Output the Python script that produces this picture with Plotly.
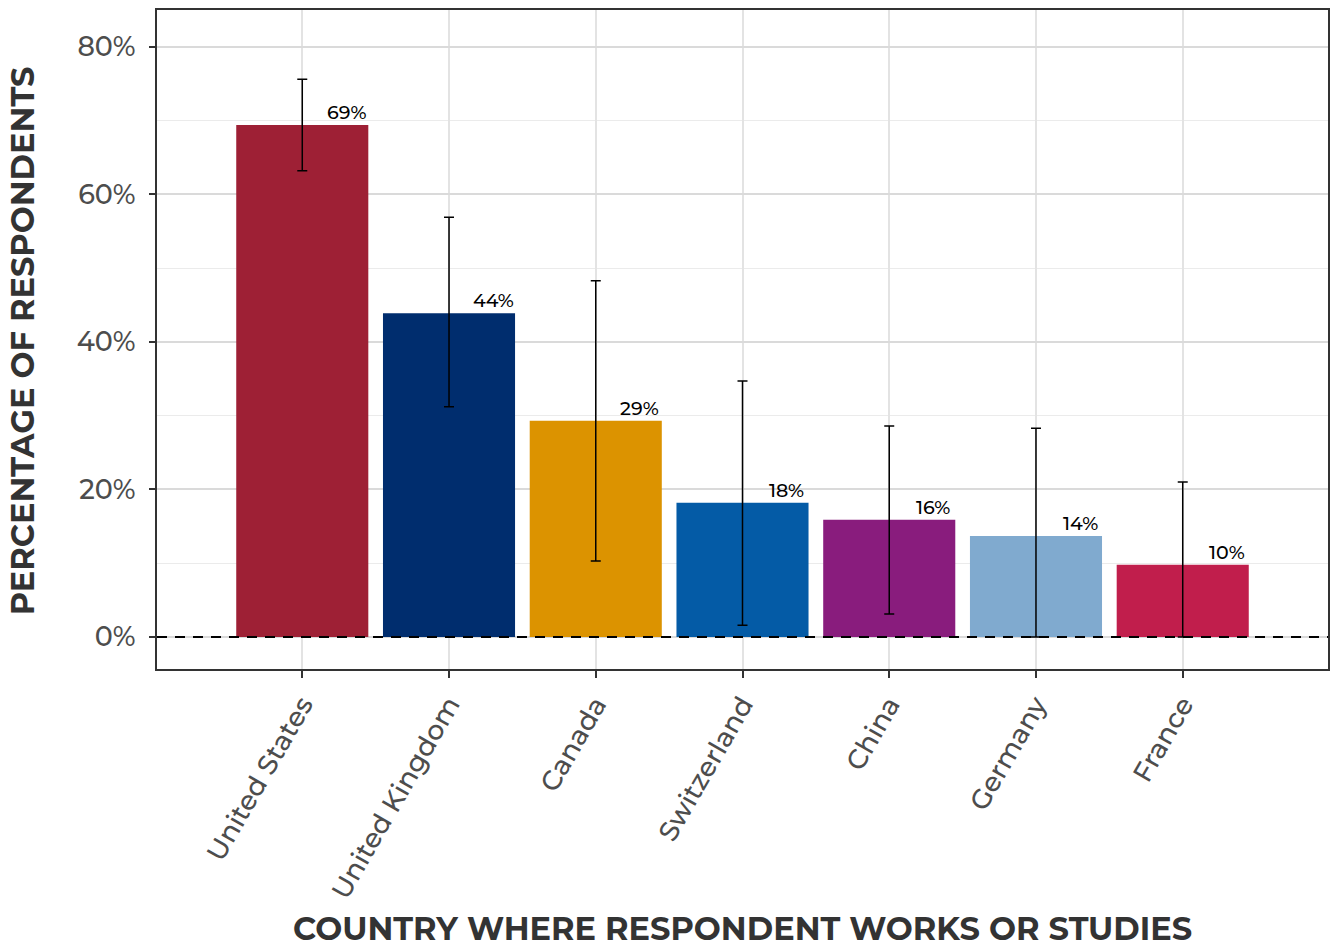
import plotly.graph_objects as go

countries = ["United States", "United Kingdom", "Canada", "Switzerland", "China", "Germany", "France"]
values = [69.4, 43.9, 29.3, 18.2, 15.9, 13.7, 9.8]
upper = [75.6, 56.9, 48.3, 34.7, 28.6, 28.3, 21.0]
lower = [63.2, 31.2, 10.3, 1.6, 3.1, 0.0, 0.0]
labels = ["69%", "44%", "29%", "18%", "16%", "14%", "10%"]
colors = ["#9E2035", "#002D6E", "#DC9300", "#045BA6", "#891C7D", "#80AACF", "#C11E4C"]

y_ticks = [0, 20, 40, 60, 80]
y_ticklabels = ["0%", "20%", "40%", "60%", "80%"]

FONT = "Montserrat, 'Open Sans', sans-serif"

fig = go.Figure()
fig.add_trace(go.Bar(
    x=countries, y=values,
    marker=dict(color=colors, line=dict(width=0)),
    width=0.9,
    error_y=dict(
        type="data", symmetric=False,
        array=[u - v for u, v in zip(upper, values)],
        arrayminus=[v - l for v, l in zip(values, lower)],
        color="black", thickness=1.5, width=5,
    ),
    showlegend=False,
    hoverinfo="skip",
))

for i, (v, lab) in enumerate(zip(values, labels)):
    fig.add_annotation(
        x=i + 0.3, y=v, xref="x", yref="y", text=lab, showarrow=False,
        yanchor="bottom", xanchor="center", yshift=-1,
        font=dict(family=FONT, size=19, color="black", weight=500),
    )

fig.add_shape(type="line", xref="paper", yref="y", x0=0, x1=1, y0=0, y1=0,
              line=dict(color="black", width=2, dash="10px,8px"), layer="above")

W, H = 1332, 951
L, R, T, B = 157, 2, 10, 282
pw = W - L - R
ph = H - T - B

fig.add_annotation(
    xref="paper", yref="paper", x=(22 - L) / pw, y=0.5 + (ph / 2 - (341 - T)) / ph,
    text="<b>PERCENTAGE OF RESPONDENTS</b>", textangle=-90, showarrow=False,
    xanchor="center", yanchor="middle",
    font=dict(family=FONT, size=32, color="#333333"),
)
fig.add_annotation(
    xref="paper", yref="paper", x=0.5, y=-(928 - (H - B)) / ph,
    text="<b>COUNTRY WHERE RESPONDENT WORKS OR STUDIES</b>", showarrow=False,
    xanchor="center", yanchor="middle",
    font=dict(family=FONT, size=32, color="#333333"),
)

fig.update_layout(
    width=W, height=H,
    margin=dict(l=L, r=R, t=T, b=B),
    plot_bgcolor="white", paper_bgcolor="white",
    font=dict(family=FONT, color="#4D4D4D"),
    bargap=0.1,
)
fig.update_xaxes(
    type="category", range=[-0.99, 6.99],
    showgrid=True, gridcolor="#E3E3E3", gridwidth=1.5,
    showline=True, linecolor="#333333", linewidth=2, mirror=True,
    ticks="outside", ticklen=7, tickwidth=2, tickcolor="#333333",
    tickangle=-60, tickfont=dict(family=FONT, size=27, color="#4D4D4D", weight=500),
    zeroline=False,
)
fig.update_yaxes(
    range=[-4.34, 85.0],
    tickvals=y_ticks, ticktext=y_ticklabels,
    showgrid=True, gridcolor="#DADADA", gridwidth=1.5,
    minor=dict(tickvals=[10, 30, 50, 70], showgrid=True, gridcolor="#EBEBEB", gridwidth=1.2, ticks=""),
    showline=True, linecolor="#333333", linewidth=2, mirror=True,
    ticks="outside", ticklen=6, tickwidth=2, tickcolor="#333333",
    tickfont=dict(family=FONT, size=27, color="#4D4D4D", weight=500),
    ticklabelstandoff=8,
    zeroline=False,
)

fig.write_html("out.html")
